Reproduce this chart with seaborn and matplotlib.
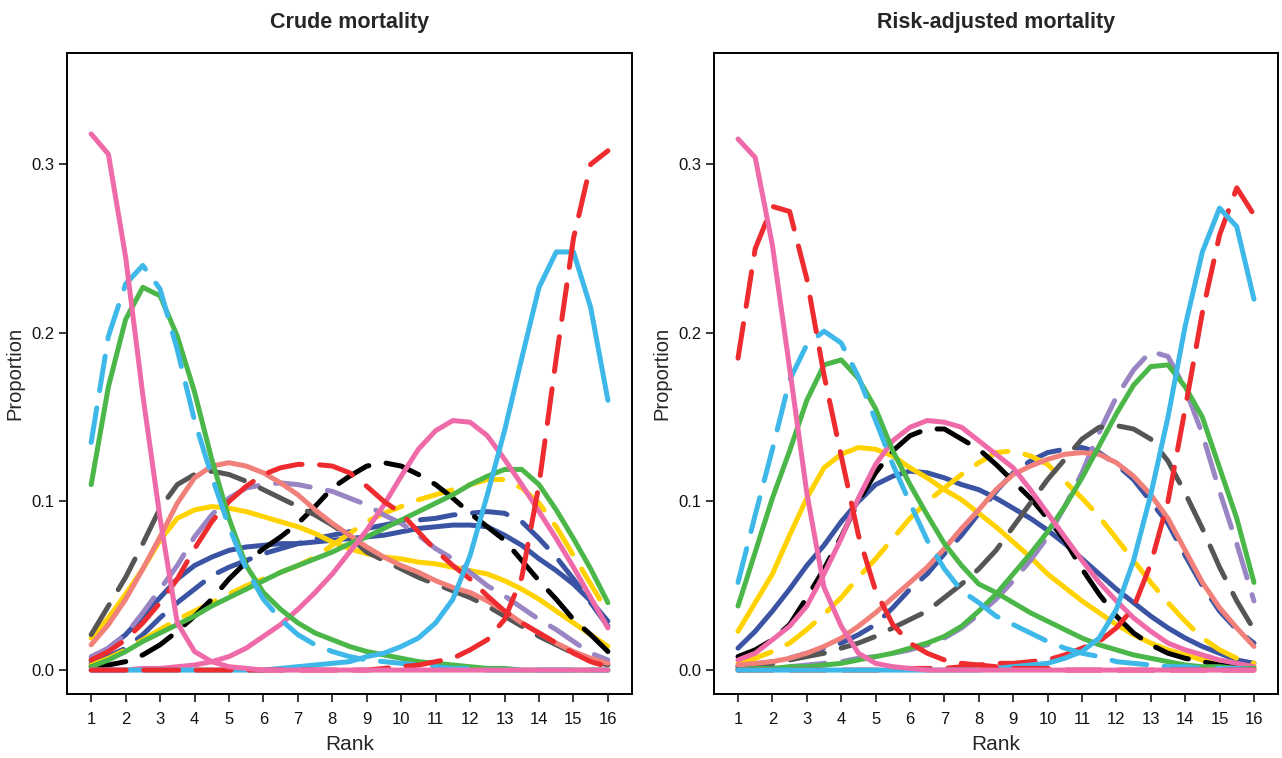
import matplotlib
matplotlib.use("Agg")
import matplotlib.pyplot as plt
import pandas as pd
import seaborn as sns

# ---------------- data ----------------
ranks = [1, 1.5, 2, 2.5, 3, 3.5, 4, 4.5, 5, 5.5, 6, 6.5, 7, 7.5, 8, 8.5,
         9, 9.5, 10, 10.5, 11, 11.5, 12, 12.5, 13, 13.5, 14, 14.5, 15, 15.5, 16]
rank_ticks = [1, 2, 3, 4, 5, 6, 7, 8, 9, 10, 11, 12, 13, 14, 15, 16]
y_ticks = [0.0, 0.1, 0.2, 0.3]
y_tick_labels = ["0.0", "0.1", "0.2", "0.3"]
panel_titles = ["Crude mortality", "Risk-adjusted mortality"]
x_label = "Rank"
y_label = "Proportion"

# Crude mortality
crude_dblue_dash = [0.004, 0.008, 0.013, 0.021, 0.031, 0.040, 0.048, 0.056, 0.061, 0.065, 0.069, 0.072, 0.075, 0.078, 0.080, 0.082,
                    0.084, 0.086, 0.088, 0.089, 0.090, 0.092, 0.093, 0.094, 0.093, 0.088, 0.078, 0.067, 0.054, 0.040, 0.026]
crude_dblue_solid = [0.006, 0.013, 0.021, 0.032, 0.043, 0.054, 0.062, 0.067, 0.071, 0.073, 0.074, 0.075, 0.075, 0.076, 0.077, 0.078,
                     0.079, 0.080, 0.082, 0.084, 0.085, 0.086, 0.086, 0.085, 0.080, 0.074, 0.066, 0.059, 0.051, 0.041, 0.029]
crude_yellow_dash = [0.003, 0.007, 0.012, 0.018, 0.024, 0.030, 0.035, 0.040, 0.045, 0.050, 0.054, 0.058, 0.062, 0.067, 0.074, 0.081,
                     0.088, 0.093, 0.097, 0.101, 0.104, 0.107, 0.110, 0.113, 0.113, 0.108, 0.099, 0.085, 0.068, 0.051, 0.034]
crude_yellow_solid = [0.019, 0.031, 0.045, 0.060, 0.077, 0.090, 0.095, 0.097, 0.096, 0.094, 0.091, 0.088, 0.085, 0.081, 0.076, 0.072,
                      0.069, 0.067, 0.066, 0.064, 0.063, 0.061, 0.059, 0.057, 0.053, 0.048, 0.042, 0.035, 0.028, 0.021, 0.014]
crude_black_dash = [0.002, 0.003, 0.005, 0.009, 0.015, 0.023, 0.032, 0.042, 0.054, 0.064, 0.072, 0.079, 0.087, 0.097, 0.108, 0.115,
                    0.121, 0.123, 0.121, 0.116, 0.110, 0.102, 0.093, 0.085, 0.077, 0.065, 0.053, 0.042, 0.030, 0.021, 0.011]
crude_purple_dash = [0.008, 0.013, 0.021, 0.034, 0.048, 0.062, 0.079, 0.092, 0.102, 0.108, 0.110, 0.111, 0.110, 0.108, 0.106, 0.102,
                     0.098, 0.092, 0.087, 0.080, 0.072, 0.066, 0.058, 0.050, 0.044, 0.037, 0.030, 0.024, 0.017, 0.010, 0.006]
crude_gray_dash = [0.021, 0.038, 0.055, 0.075, 0.096, 0.110, 0.116, 0.118, 0.116, 0.112, 0.107, 0.102, 0.097, 0.092, 0.086, 0.079,
                   0.070, 0.065, 0.060, 0.055, 0.051, 0.047, 0.043, 0.038, 0.032, 0.026, 0.020, 0.015, 0.010, 0.006, 0.003]
crude_salmon = [0.015, 0.027, 0.042, 0.060, 0.079, 0.099, 0.114, 0.121, 0.123, 0.121, 0.117, 0.111, 0.104, 0.095, 0.087, 0.080,
                0.073, 0.067, 0.062, 0.058, 0.053, 0.049, 0.046, 0.041, 0.035, 0.028, 0.022, 0.016, 0.011, 0.007, 0.004]
crude_green_b = [0.002, 0.006, 0.011, 0.017, 0.022, 0.027, 0.032, 0.038, 0.043, 0.048, 0.053, 0.058, 0.062, 0.066, 0.070, 0.075,
                 0.079, 0.084, 0.089, 0.094, 0.099, 0.104, 0.110, 0.115, 0.119, 0.119, 0.110, 0.095, 0.078, 0.060, 0.040]
crude_pink_b = [0.000, 0.000, 0.000, 0.001, 0.001, 0.002, 0.003, 0.005, 0.008, 0.013, 0.020, 0.027, 0.036, 0.046, 0.057, 0.070,
                0.083, 0.098, 0.115, 0.131, 0.142, 0.148, 0.147, 0.139, 0.125, 0.110, 0.094, 0.078, 0.061, 0.043, 0.025]
crude_red_b = [0.006, 0.011, 0.018, 0.028, 0.040, 0.054, 0.072, 0.088, 0.100, 0.109, 0.116, 0.120, 0.122, 0.122, 0.121, 0.117,
               0.109, 0.100, 0.093, 0.082, 0.071, 0.062, 0.054, 0.044, 0.035, 0.028, 0.022, 0.016, 0.010, 0.005, 0.002]
crude_green_a = [0.110, 0.168, 0.208, 0.227, 0.222, 0.198, 0.165, 0.125, 0.090, 0.062, 0.046, 0.036, 0.028, 0.022, 0.018, 0.014,
                 0.011, 0.009, 0.007, 0.005, 0.004, 0.003, 0.002, 0.001, 0.001, 0.000, 0.000, 0.000, 0.000, 0.000, 0.000]
crude_lblue_dash = [0.135, 0.198, 0.229, 0.240, 0.226, 0.190, 0.148, 0.115, 0.085, 0.060, 0.042, 0.030, 0.021, 0.015, 0.011, 0.008,
                    0.006, 0.005, 0.004, 0.003, 0.002, 0.001, 0.001, 0.000, 0.000, 0.000, 0.000, 0.000, 0.000, 0.000, 0.000]
crude_lblue_solid = [0.000, 0.000, 0.000, 0.000, 0.000, 0.000, 0.000, 0.000, 0.000, 0.000, 0.000, 0.001, 0.002, 0.003, 0.004, 0.005,
                     0.008, 0.010, 0.014, 0.019, 0.028, 0.042, 0.068, 0.104, 0.142, 0.185, 0.227, 0.248, 0.248, 0.215, 0.160]
crude_red_a = [0.000, 0.000, 0.000, 0.000, 0.000, 0.000, 0.000, 0.000, 0.000, 0.000, 0.000, 0.000, 0.000, 0.000, 0.000, 0.000,
               0.000, 0.001, 0.002, 0.003, 0.005, 0.007, 0.012, 0.018, 0.030, 0.055, 0.110, 0.185, 0.256, 0.300, 0.308]
crude_pink_a = [0.318, 0.306, 0.245, 0.163, 0.090, 0.028, 0.011, 0.005, 0.002, 0.001, 0.000, 0.000, 0.000, 0.000, 0.000, 0.000,
                0.000, 0.000, 0.000, 0.000, 0.000, 0.000, 0.000, 0.000, 0.000, 0.000, 0.000, 0.000, 0.000, 0.000, 0.000]

# Risk-adjusted mortality
adj_dblue_dash = [0.002, 0.003, 0.005, 0.007, 0.010, 0.013, 0.016, 0.021, 0.027, 0.037, 0.048, 0.057, 0.069, 0.080, 0.093, 0.106,
                  0.117, 0.124, 0.129, 0.131, 0.132, 0.129, 0.122, 0.113, 0.100, 0.087, 0.068, 0.050, 0.035, 0.024, 0.016]
adj_dblue_solid = [0.013, 0.023, 0.035, 0.048, 0.062, 0.074, 0.088, 0.100, 0.110, 0.115, 0.118, 0.117, 0.114, 0.110, 0.107, 0.102,
                   0.096, 0.090, 0.083, 0.075, 0.066, 0.057, 0.048, 0.040, 0.032, 0.025, 0.019, 0.014, 0.010, 0.006, 0.004]
adj_yellow_dash = [0.004, 0.007, 0.011, 0.016, 0.024, 0.033, 0.043, 0.055, 0.066, 0.078, 0.090, 0.100, 0.108, 0.116, 0.123, 0.129,
                   0.130, 0.127, 0.122, 0.112, 0.102, 0.091, 0.078, 0.065, 0.052, 0.040, 0.029, 0.019, 0.012, 0.007, 0.004]
adj_yellow_solid = [0.023, 0.040, 0.057, 0.080, 0.102, 0.120, 0.128, 0.132, 0.131, 0.127, 0.120, 0.114, 0.107, 0.101, 0.093, 0.085,
                    0.076, 0.067, 0.057, 0.049, 0.041, 0.034, 0.027, 0.021, 0.016, 0.012, 0.009, 0.006, 0.004, 0.003, 0.002]
adj_black_dash = [0.008, 0.012, 0.018, 0.027, 0.043, 0.060, 0.079, 0.100, 0.117, 0.130, 0.139, 0.143, 0.143, 0.137, 0.131, 0.122,
                  0.112, 0.102, 0.090, 0.077, 0.060, 0.045, 0.032, 0.022, 0.015, 0.010, 0.007, 0.005, 0.003, 0.002, 0.001]
adj_purple_dash = [0.001, 0.001, 0.002, 0.002, 0.003, 0.004, 0.005, 0.007, 0.008, 0.010, 0.012, 0.015, 0.019, 0.025, 0.033, 0.042,
                   0.053, 0.065, 0.079, 0.097, 0.117, 0.141, 0.162, 0.178, 0.189, 0.186, 0.167, 0.140, 0.106, 0.075, 0.041]
adj_gray_dash = [0.002, 0.003, 0.004, 0.006, 0.008, 0.010, 0.013, 0.016, 0.020, 0.025, 0.030, 0.035, 0.043, 0.051, 0.060, 0.071,
                 0.085, 0.099, 0.113, 0.125, 0.137, 0.144, 0.145, 0.143, 0.137, 0.124, 0.105, 0.084, 0.061, 0.041, 0.024]
adj_salmon = [0.003, 0.004, 0.005, 0.007, 0.010, 0.014, 0.019, 0.026, 0.034, 0.043, 0.052, 0.061, 0.072, 0.084, 0.095, 0.107,
              0.116, 0.121, 0.125, 0.128, 0.129, 0.128, 0.123, 0.115, 0.104, 0.090, 0.071, 0.052, 0.037, 0.025, 0.014]
adj_green_b = [0.000, 0.001, 0.001, 0.002, 0.002, 0.003, 0.004, 0.006, 0.008, 0.010, 0.013, 0.016, 0.020, 0.026, 0.035, 0.045,
               0.057, 0.069, 0.082, 0.097, 0.114, 0.133, 0.152, 0.169, 0.180, 0.181, 0.168, 0.150, 0.120, 0.090, 0.052]
adj_pink_b = [0.006, 0.010, 0.018, 0.026, 0.038, 0.057, 0.078, 0.102, 0.122, 0.136, 0.144, 0.148, 0.147, 0.144, 0.136, 0.128,
              0.120, 0.107, 0.093, 0.079, 0.065, 0.052, 0.041, 0.031, 0.023, 0.016, 0.012, 0.009, 0.006, 0.004, 0.002]
adj_red_b = [0.000, 0.000, 0.000, 0.000, 0.000, 0.000, 0.000, 0.000, 0.000, 0.000, 0.001, 0.001, 0.001, 0.002, 0.003, 0.004,
             0.004, 0.005, 0.006, 0.009, 0.013, 0.017, 0.025, 0.037, 0.063, 0.100, 0.155, 0.212, 0.258, 0.286, 0.270]
adj_green_a = [0.038, 0.070, 0.102, 0.130, 0.160, 0.181, 0.184, 0.173, 0.155, 0.130, 0.110, 0.092, 0.075, 0.062, 0.051, 0.046,
               0.040, 0.034, 0.029, 0.024, 0.019, 0.015, 0.012, 0.009, 0.007, 0.005, 0.003, 0.002, 0.002, 0.001, 0.001]
adj_lblue_dash = [0.052, 0.092, 0.131, 0.172, 0.193, 0.201, 0.194, 0.174, 0.148, 0.122, 0.099, 0.077, 0.060, 0.047, 0.040, 0.032,
                  0.027, 0.022, 0.017, 0.013, 0.010, 0.008, 0.005, 0.004, 0.003, 0.002, 0.002, 0.001, 0.001, 0.001, 0.000]
adj_lblue_solid = [0.000, 0.000, 0.000, 0.000, 0.000, 0.000, 0.000, 0.000, 0.000, 0.000, 0.000, 0.000, 0.000, 0.000, 0.000, 0.001,
                   0.002, 0.003, 0.004, 0.007, 0.011, 0.019, 0.036, 0.065, 0.104, 0.150, 0.204, 0.248, 0.274, 0.263, 0.220]
adj_red_a = [0.185, 0.250, 0.275, 0.272, 0.232, 0.175, 0.127, 0.080, 0.047, 0.027, 0.016, 0.010, 0.006, 0.004, 0.003, 0.002,
             0.001, 0.001, 0.001, 0.000, 0.000, 0.000, 0.000, 0.000, 0.000, 0.000, 0.000, 0.000, 0.000, 0.000, 0.000]
adj_pink_a = [0.315, 0.304, 0.252, 0.179, 0.105, 0.049, 0.026, 0.010, 0.004, 0.002, 0.001, 0.000, 0.000, 0.000, 0.000, 0.000,
              0.000, 0.000, 0.000, 0.000, 0.000, 0.000, 0.000, 0.000, 0.000, 0.000, 0.000, 0.000, 0.000, 0.000, 0.000]

# ---------------- styles ----------------
PINK = "#EF6AA8"
LBLUE = "#3DB8E9"
GREEN = "#4BB749"
YELLOW = "#FFD200"
SALMON = "#F08079"
DBLUE = "#3A53A3"
BLACK = "#000000"
PURPLE = "#9985C3"
GRAY = "#555555"
RED = "#EE2B2E"

crude_curves = [
    (crude_dblue_dash, DBLUE, True), (crude_dblue_solid, DBLUE, False),
    (crude_yellow_dash, YELLOW, True), (crude_yellow_solid, YELLOW, False),
    (crude_black_dash, BLACK, True), (crude_purple_dash, PURPLE, True),
    (crude_gray_dash, GRAY, True), (crude_salmon, SALMON, False),
    (crude_green_b, GREEN, False), (crude_pink_b, PINK, False),
    (crude_red_b, RED, True), (crude_green_a, GREEN, False),
    (crude_lblue_dash, LBLUE, True), (crude_lblue_solid, LBLUE, False),
    (crude_red_a, RED, True), (crude_pink_a, PINK, False),
]
adj_curves = [
    (adj_dblue_dash, DBLUE, True), (adj_dblue_solid, DBLUE, False),
    (adj_yellow_dash, YELLOW, True), (adj_yellow_solid, YELLOW, False),
    (adj_black_dash, BLACK, True), (adj_purple_dash, PURPLE, True),
    (adj_gray_dash, GRAY, True), (adj_salmon, SALMON, False),
    (adj_green_b, GREEN, False), (adj_pink_b, PINK, False),
    (adj_red_b, RED, True), (adj_green_a, GREEN, False),
    (adj_lblue_dash, LBLUE, True), (adj_lblue_solid, LBLUE, False),
    (adj_red_a, RED, True), (adj_pink_a, PINK, False),
]

sns.set_style("ticks")
plt.rcParams["font.family"] = ["Liberation Sans", "DejaVu Sans"]

fig = plt.figure(figsize=(12.82, 7.58), dpi=100)
ax_left = fig.add_axes([0.0523, 0.0844, 0.4407, 0.8457])
ax_right = fig.add_axes([0.5569, 0.0844, 0.4400, 0.8457])

LW = 3.6
DASH = (0, (7.0, 3.5))

for ax, curves, title in [(ax_left, crude_curves, panel_titles[0]),
                          (ax_right, adj_curves, panel_titles[1])]:
    for values, color, dashed in curves:
        df = pd.DataFrame({"rank": ranks, "prop": values})
        sns.lineplot(data=df, x="rank", y="prop", ax=ax, color=color,
                     linewidth=LW, estimator=None, sort=False, errorbar=None,
                     linestyle=DASH if dashed else "-",
                     dash_capstyle="round", solid_capstyle="round",
                     solid_joinstyle="round", dash_joinstyle="round")
    ax.set_xlim(0.3, 16.7)
    ax.set_ylim(-0.0142, 0.366)
    ax.set_xticks(rank_ticks)
    ax.set_xticklabels([str(t) for t in rank_ticks])
    ax.set_yticks(y_ticks)
    ax.set_yticklabels(y_tick_labels)
    ax.tick_params(axis="both", direction="out", length=6, width=1.1,
                   labelsize=12, color="black", labelcolor="#111111")
    ax.tick_params(axis="x", pad=7)
    ax.tick_params(axis="y", pad=3)
    for sp in ax.spines.values():
        sp.set_visible(True)
        sp.set_color("black")
        sp.set_linewidth(1.4)
    ax.set_xlabel(x_label, fontsize=15, labelpad=6)
    ax.set_ylabel(y_label, fontsize=14.5, labelpad=5)
    ax.set_title(title, fontsize=15.5, fontweight="bold", pad=18)
    ax.grid(False)

fig.savefig("out.png", dpi=100, facecolor="white")
